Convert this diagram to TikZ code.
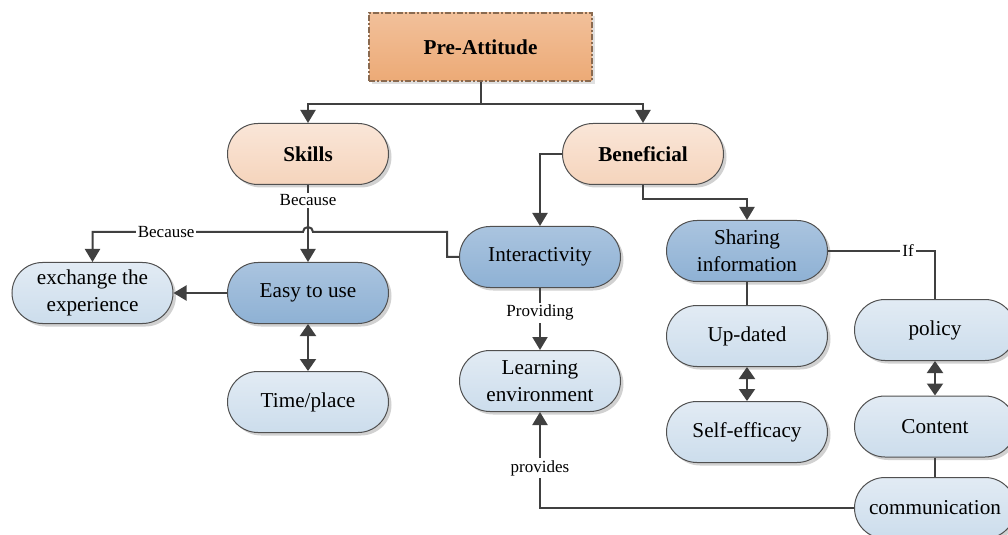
\documentclass[tikz,border=0pt]{standalone}
\usepackage{fontspec}
\setmainfont{Liberation Serif}
\usetikzlibrary{shapes.misc,arrows.meta,shadows,positioning}

\definecolor{linec}{HTML}{404040}
\definecolor{edgec}{HTML}{505050}
\definecolor{preTop}{HTML}{F2C09A}
\definecolor{preBot}{HTML}{ECAA76}
\definecolor{preEdge}{HTML}{8A6A50}
\definecolor{peachTop}{HTML}{FAE6D8}
\definecolor{peachBot}{HTML}{F5D4BC}
\definecolor{blueTop}{HTML}{AAC4DF}
\definecolor{blueBot}{HTML}{8EB1D4}
\definecolor{paleTop}{HTML}{E2EBF4}
\definecolor{paleBot}{HTML}{CCDDEC}

\tikzset{
  conn/.style={draw=linec, line width=1pt},
  arr/.style={conn, -{Triangle[length=6.5pt,width=7.5pt]}},
  darr/.style={conn, {Triangle[length=6pt,width=8pt]}-{Triangle[length=6pt,width=8pt]}},
  lbl/.style={fill=white, font=\fontsize{8.5}{10}\selectfont, inner sep=1pt},
  pill/.style={rounded rectangle, draw=edgec, line width=0.5pt,
    minimum width=82.5pt, minimum height=30.5pt, inner sep=1pt, align=center,
    font=\fontsize{10.6}{13.5}\selectfont,
    drop shadow={shadow xshift=1.5pt, shadow yshift=-1.5pt, fill=black, opacity=0.18}},
  peachpill/.style={pill, top color=peachTop, bottom color=peachBot,
    font=\fontsize{10.6}{13.5}\selectfont\bfseries},
  bluepill/.style={pill, top color=blueTop, bottom color=blueBot},
  palepill/.style={pill, top color=paleTop, bottom color=paleBot},
  headbox/.style={rectangle, draw=preEdge, line width=0.6pt,
    dash pattern=on 3pt off 1pt on 1pt off 1pt,
    top color=preTop, bottom color=preBot,
    minimum width=111.5pt, minimum height=34pt,
    font=\fontsize{10.6}{13.5}\selectfont\bfseries,
    drop shadow={shadow xshift=1.5pt, shadow yshift=-1.5pt, fill=black, opacity=0.12}},
}

\begin{document}
\begin{tikzpicture}[x=0.5pt, y=-0.5pt]
  \useasboundingbox (0,0) rectangle (1008,535);

  % top level
  \node[headbox] (pre) at (480.5,47) {Pre-Attitude};
  \node[peachpill] (skills) at (308,154) {Skills};
  \node[peachpill] (benef) at (643,154) {Beneficial};

  % left branch
  \node[bluepill] (easy) at (308,293) {Easy to use};
  \node[palepill] (exch) at (92.5,293) {exchange the\\experience};
  \node[palepill] (time) at (308,402) {Time/place};

  % middle branch
  \node[bluepill] (inter) at (540,257) {Interactivity};
  \node[palepill] (learn) at (540,381) {Learning\\environment};

  % right branch
  \node[bluepill] (share) at (747,251) {Sharing\\information};
  \node[palepill] (upd) at (747,336) {Up-dated};
  \node[palepill] (self) at (747,432) {Self-efficacy};
  \node[palepill] (policy) at (935,330) {policy};
  \node[palepill] (content) at (935,426.5) {Content};
  \node[palepill] (comm) at (935,508) {communication};

  % connectors from the top box
  \draw[arr] (pre.south) -- ++(0,22) -| (skills.north);
  \draw[arr] (pre.south) -- ++(0,22) -| (benef.north);

  % skills branch
  \draw[arr] (skills.south) -- node[lbl, pos=0.2] {Because} (easy.north);
  \draw[arr] (easy.west) -- (exch.east);
  \draw[darr] (easy.south) -- (time.north);

  % interactivity back to exchange, hopping over the skills line
  \draw[arr] (inter.west) -| (447,232) -- (313,232)
     arc[start angle=0, end angle=180, radius=2.5pt]
     -- node[lbl, pos=0.65] {Because} (exch.north |- 0,232) -- (exch.north);

  % beneficial branch
  \draw[arr] (benef.west) -| (inter.north);
  \draw[arr] (benef.south) -- ++(0,14.5) -| (share.north);
  \draw[arr] (inter.south) -- node[lbl, pos=0.4] {Providing} (learn.north);

  % sharing information
  \draw[conn] (share.south) -- (upd.north);
  \draw[darr] (upd.south) -- (self.north);
  \draw[conn] (share.east) -| node[lbl, pos=0.374] {If} (policy.north);
  \draw[darr] (policy.south) -- (content.north);
  \draw[conn] (content.south) -- (comm.north);
  \draw[arr] (comm.west) -| node[lbl, pos=0.708] {provides} (learn.south);
\end{tikzpicture}
\end{document}
